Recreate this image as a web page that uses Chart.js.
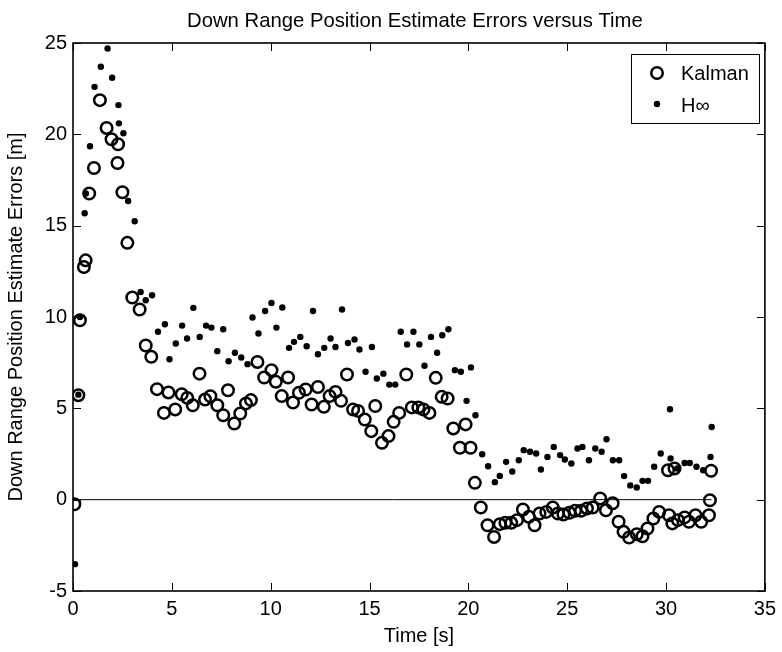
<!DOCTYPE html>
<html>
<head>
<meta charset="utf-8">
<script src="https://cdn.jsdelivr.net/npm/chart.js@4.4.0/dist/chart.umd.min.js"></script>
<style>
    html, body { margin: 0; padding: 0; background: #fff; }
    #wrap { width: 782px; height: 652px; }
</style>
</head>
<body>
<div id="wrap"><canvas id="chart" width="782" height="652"></canvas></div>
<script>
// Values
const kalmanTime = [0.07, 0.27, 0.35, 0.55, 0.64, 0.82, 1.06, 1.36, 1.70, 1.95, 2.25, 2.28, 2.5, 2.75, 3.0,
    3.37, 3.68, 3.96, 4.25, 4.6, 4.83, 5.17, 5.5, 5.78, 6.06, 6.4, 6.68, 6.95, 7.3, 7.6, 7.84, 8.16, 8.46, 8.75, 9.0,
    9.33, 9.67, 10.04, 10.26, 10.56, 10.88, 11.13, 11.43, 11.77, 12.07, 12.39, 12.69, 12.98, 13.28, 13.56, 13.86,
    14.17, 14.42, 14.76, 15.09, 15.29, 15.63, 15.96, 16.22, 16.5, 16.86, 17.14, 17.47, 17.73, 18.03, 18.35, 18.65,
    18.95, 19.24, 19.57, 19.86, 20.11, 20.33, 20.63, 20.97, 21.3, 21.59, 21.87, 22.17, 22.46, 22.76, 23.06, 23.35,
    23.6, 23.94, 24.27, 24.53, 24.81, 25.11, 25.4, 25.7, 26.0, 26.29, 26.67, 26.96, 27.3, 27.6, 27.85, 28.13, 28.52,
    28.81, 29.06, 29.36, 29.65, 30.1, 30.15, 30.32, 30.43, 30.6, 30.94, 31.16, 31.49, 31.78, 32.17, 32.22, 32.28];
const kalmanError = [-0.25, 5.72, 9.82, 12.74, 13.1, 16.76, 18.16, 21.87, 20.35, 19.73, 18.43, 19.46, 16.83, 14.06, 11.07,
    10.41, 8.44, 7.82, 6.05, 4.75, 5.87, 4.94, 5.77, 5.57, 5.17, 6.9, 5.48, 5.66, 5.17, 4.62, 5.99, 4.17, 4.72, 5.27, 5.45,
    7.54, 6.69, 7.09, 6.45, 5.67, 6.69, 5.32, 5.85, 6.03, 5.21, 6.17, 5.08, 5.67, 5.9, 5.41, 6.85,
    4.94, 4.86, 4.39, 3.75, 5.13, 3.11, 3.48, 4.26, 4.75, 6.85, 5.05, 5.05, 4.94, 4.75, 6.67, 5.63,
    5.54, 3.9, 2.84, 4.12, 2.84, 0.92, -0.43, -1.4, -2.04, -1.34, -1.27, -1.27, -1.12, -0.54, -0.94, -1.4,
    -0.76, -0.67, -0.43, -0.76, -0.81, -0.72, -0.61, -0.61, -0.48, -0.43, 0.07, -0.58, -0.2, -1.21, -1.76, -2.07, -1.89,
    -2.0, -1.58, -1.03, -0.67, 1.61, -0.85, -1.3, 1.71, -1.12, -0.97, -1.21, -0.85, -1.21, -0.85, -0.03, 1.58];

const hinfTime = [0.1, 0.27, 0.35, 0.59, 0.65, 0.86, 1.09, 1.41, 1.75, 1.98, 2.3, 2.32, 2.55, 2.79, 3.12,
    3.42, 3.68, 4.0, 4.3, 4.65, 4.88, 5.2, 5.52, 5.77, 6.09, 6.41, 6.73, 7.0, 7.3, 7.6, 7.87, 8.19, 8.51, 8.83, 9.08,
    9.38, 9.72, 10.04, 10.29, 10.59, 10.93, 11.18, 11.5, 11.82, 12.14, 12.39, 12.71, 13.03, 13.28, 13.61, 13.91,
    14.24, 14.49, 14.8, 15.12, 15.37, 15.7, 16.0, 16.3, 16.58, 16.9, 17.22, 17.52, 17.78, 18.11, 18.42, 18.68,
    18.99, 19.32, 19.62, 19.91, 20.13, 20.36, 20.7, 21.0, 21.34, 21.59, 21.91, 22.22, 22.55, 22.8, 23.12, 23.43,
    23.67, 24.0, 24.32, 24.64, 24.88, 25.21, 25.52, 25.77, 26.1, 26.42, 26.74, 26.99, 27.31, 27.63, 27.88, 28.19,
    28.52, 28.81, 29.09, 29.4, 29.73, 30.2, 30.23, 30.57, 30.94, 31.2, 31.54, 31.88, 32.25, 32.31];
const hinfError = [-3.53, 5.75, 10.0, 15.68, 16.76, 19.35, 22.6, 23.7, 24.7, 23.1, 21.6, 20.6, 20.06, 16.35, 15.24,
    11.37, 10.92, 11.19, 9.19, 9.6, 7.69, 8.55, 9.53, 8.82, 10.5, 8.91, 9.53, 9.42, 8.13, 9.33, 7.58, 8.04, 7.78, 7.42, 9.97,
    9.1, 10.33, 10.77, 9.42, 10.52, 8.31, 8.64, 8.91, 8.4, 10.33, 7.96, 8.31, 8.82, 8.36, 10.41, 8.58,
    8.77, 8.22, 7.0, 8.36, 6.63, 6.9, 6.3, 6.3, 9.19, 8.5, 9.19, 8.5, 7.33, 8.91, 8.04, 9.0,
    9.33, 7.09, 7.0, 5.41, 7.24, 4.62, 2.49, 1.83, 0.96, 1.3, 2.07, 1.54, 2.16, 2.71, 2.62, 2.53,
    1.65, 2.34, 2.89, 2.44, 2.2, 1.98, 2.8, 2.89, 2.16, 2.8, 2.62, 3.31, 2.16, 2.16, 1.29, 0.78,
    0.67, 1.03, 1.03, 1.8, 2.53, 4.95, 2.25, 1.71, 2.01, 2.01, 1.8, 1.61, 2.34, 3.98];

const zeroLineTime = [0, 32.3];
const xTicks = [0, 5, 10, 15, 20, 25, 30, 35];
const yTicks = [-5, 0, 5, 10, 15, 20, 25];

const FONT = '"Liberation Sans", Arial, sans-serif';

function toPoints(xs, ys) {
    return xs.map((t, i) => ({ x: t, y: ys[i] }));
}

// Box round the axes with inward ticks, title and legend
const matlabFrame = {
    id: 'matlabFrame',
    afterDraw(chart) {
        const ctx = chart.ctx;
        const a = chart.chartArea;
        const xs = chart.scales.x;
        const ys = chart.scales.y;
        const len = 8;

        ctx.save();
        ctx.strokeStyle = '#000';
        ctx.lineWidth = 1;
        ctx.beginPath();
        xTicks.forEach(v => {
            const px = Math.round(xs.getPixelForValue(v)) + 0.5;
            ctx.moveTo(px, a.bottom); ctx.lineTo(px, a.bottom - len);
            ctx.moveTo(px, a.top); ctx.lineTo(px, a.top + len);
        });
        yTicks.forEach(v => {
            const py = Math.round(ys.getPixelForValue(v)) + 0.5;
            ctx.moveTo(a.left, py); ctx.lineTo(a.left + len, py);
            ctx.moveTo(a.right, py); ctx.lineTo(a.right - len, py);
        });
        ctx.stroke();

        ctx.lineWidth = 1.6;
        ctx.strokeRect(a.left, a.top, a.right - a.left, a.bottom - a.top);

        // title
        ctx.fillStyle = '#000';
        ctx.font = '20.3px ' + FONT;
        ctx.textAlign = 'left';
        ctx.textBaseline = 'alphabetic';
        ctx.fillText('Down Range Position Estimate Errors versus Time', 187, 27);

        // legend
        const lx = 631, ly = 54, lw = 759 - 631, lh = 69;
        ctx.fillStyle = '#fff';
        ctx.fillRect(lx, ly, lw, lh);
        ctx.lineWidth = 1;
        ctx.strokeStyle = '#000';
        ctx.strokeRect(lx + 0.5, ly + 0.5, lw, lh);

        ctx.lineWidth = 2.5;
        ctx.beginPath();
        ctx.arc(lx + 26, 73, 5.75, 0, Math.PI * 2);
        ctx.stroke();
        ctx.fillStyle = '#000';
        ctx.beginPath();
        ctx.arc(lx + 26, 104, 3.2, 0, Math.PI * 2);
        ctx.fill();

        ctx.font = '20px ' + FONT;
        ctx.fillText('Kalman', 681, 80);
        ctx.fillText('H\u221E', 681, 112);
        ctx.restore();
    }
};

new Chart(document.getElementById('chart'), {
    type: 'scatter',
    data: {
        datasets: [
            {
                label: 'Kalman',
                data: toPoints(kalmanTime, kalmanError),
                pointStyle: 'circle',
                pointRadius: 5.75,
                pointBorderWidth: 2.5,
                borderColor: '#000',
                backgroundColor: 'rgba(0,0,0,0)'
            },
            {
                label: 'H\u221E',
                data: toPoints(hinfTime, hinfError),
                pointStyle: 'circle',
                pointRadius: 3.2,
                pointBorderWidth: 0,
                borderColor: '#000',
                backgroundColor: '#000'
            },
            {
                label: 'zero',
                data: toPoints(zeroLineTime, [0, 0]),
                showLine: true,
                borderColor: '#000',
                borderWidth: 1,
                pointRadius: 0
            }
        ]
    },
    options: {
        responsive: false,
        animation: false,
        devicePixelRatio: 1,
        layout: { padding: { top: 43, right: 14, left: 0, bottom: 0 } },
        plugins: {
            legend: { display: false },
            title: { display: false },
            tooltip: { enabled: false }
        },
        scales: {
            x: {
                type: 'linear',
                min: 0,
                max: 35,
                afterFit: s => { s.height = 61; },
                afterBuildTicks: s => { s.ticks = xTicks.map(v => ({ value: v })); },
                grid: { display: false, drawTicks: false },
                border: { display: false },
                ticks: { color: '#000', font: { family: FONT, size: 20 }, padding: 6, maxRotation: 0 },
                title: { display: true, text: 'Time [s]', color: '#000', font: { family: FONT, size: 20 }, padding: { top: 0, bottom: 4 } }
            },
            y: {
                type: 'linear',
                min: -5,
                max: 25,
                afterFit: s => { s.width = 73; },
                afterBuildTicks: s => { s.ticks = yTicks.map(v => ({ value: v })); },
                grid: { display: false, drawTicks: false },
                border: { display: false },
                ticks: { color: '#000', font: { family: FONT, size: 20 }, padding: 6 },
                title: { display: true, text: 'Down Range Position Estimate Errors [m]', color: '#000', font: { family: FONT, size: 20 }, padding: { top: 4, bottom: 0 } }
            }
        }
    },
    plugins: [matlabFrame]
});
</script>
</body>
</html>
